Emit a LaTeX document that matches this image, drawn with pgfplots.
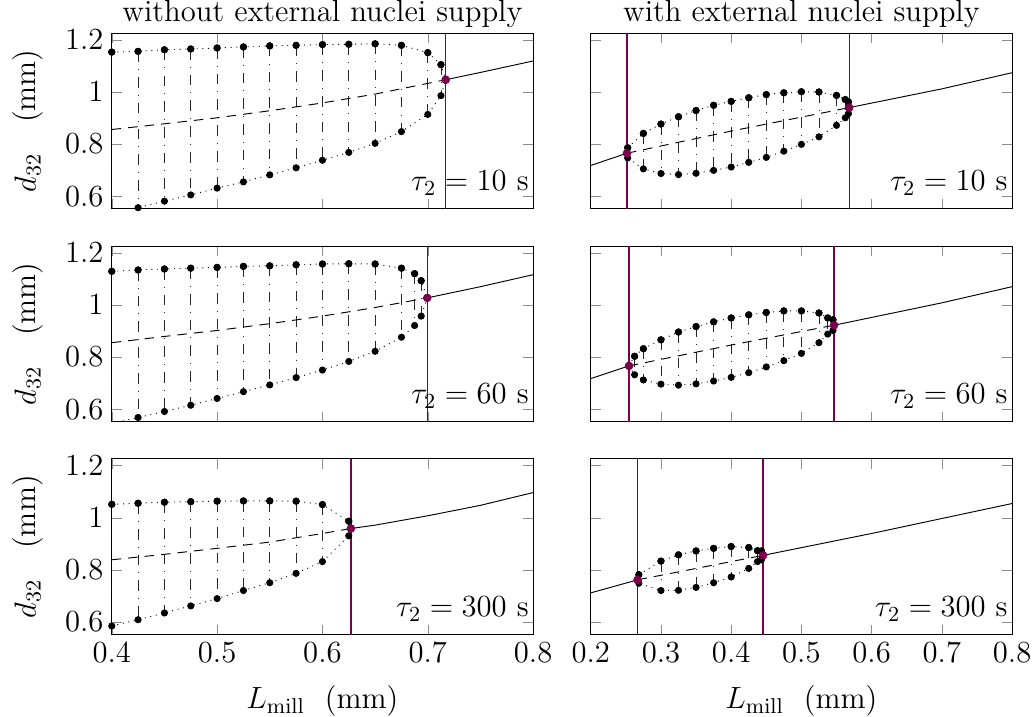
\RequirePackage{fix-cm}
\documentclass[border=0pt]{standalone}
\usepackage{pgfplots}
\pgfplotsset{compat=1.18}
\usepackage{pgfplotstable}
\usepgfplotslibrary{groupplots}
\definecolor{hopfc}{RGB}{125,0,75}

% panel 1: without supply, tau=10
\pgfplotstableread{
x up lo
0.4 1.153 0.535
0.425 1.156 0.556
0.45 1.162 0.581
0.475 1.165 0.605
0.5 1.169 0.631
0.525 1.173 0.655
0.55 1.177 0.682
0.575 1.179 0.709
0.6 1.182 0.738
0.625 1.183 0.768
0.65 1.185 0.803
0.675 1.179 0.848
0.7 1.151 0.914
0.7125 1.105 0.986
0.717 1.047 1.047
}\tA
\pgfplotstableread{
x up lo
0.4 1.129 0.545
0.425 1.134 0.568
0.45 1.138 0.591
0.475 1.141 0.615
0.5 1.144 0.641
0.525 1.148 0.667
0.55 1.150 0.693
0.575 1.154 0.721
0.6 1.157 0.750
0.625 1.158 0.783
0.65 1.157 0.822
0.675 1.141 0.876
0.6875 1.120 0.921
0.69375 1.093 0.957
0.6995 1.027 1.027
}\tB
\pgfplotstableread{
x up lo
0.4 1.052 0.585
0.425 1.056 0.609
0.45 1.060 0.635
0.475 1.062 0.662
0.5 1.064 0.690
0.525 1.065 0.721
0.55 1.065 0.751
0.575 1.064 0.787
0.6 1.051 0.832
0.625 0.987 0.931
0.627 0.959 0.959
}\tC
\pgfplotstableread{
x up lo
0.2516 0.765 0.765
0.2526 0.786 0.747
0.275 0.841 0.705
0.3 0.877 0.687
0.325 0.905 0.683
0.35 0.929 0.688
0.375 0.949 0.699
0.4 0.964 0.712
0.425 0.978 0.730
0.45 0.990 0.749
0.475 0.997 0.773
0.5 1.001 0.799
0.525 1.000 0.828
0.55 0.987 0.872
0.5625 0.971 0.901
0.567 0.962 0.917
0.568 0.940 0.940
}\tD
\pgfplotstableread{
x up lo
0.2545 0.766 0.766
0.2625 0.803 0.732
0.275 0.832 0.712
0.3 0.866 0.696
0.325 0.896 0.692
0.35 0.917 0.697
0.375 0.935 0.708
0.4 0.950 0.722
0.425 0.962 0.740
0.45 0.971 0.762
0.475 0.977 0.786
0.5 0.977 0.814
0.525 0.969 0.855
0.5375 0.950 0.888
0.545 0.943 0.902
0.5465 0.922 0.922
}\tE
\pgfplotstableread{
x up lo
0.2667 0.762 0.762
0.2685 0.782 0.749
0.3 0.834 0.721
0.325 0.858 0.722
0.35 0.873 0.733
0.375 0.883 0.751
0.4 0.890 0.773
0.425 0.886 0.806
0.4375 0.874 0.832
0.443 0.873 0.839
0.4455 0.856 0.856
}\tF

\pgfplotsset{
  vlines/.style={only marks, mark=none, mark size=1.3pt, black, forget plot,
    error bars/.cd, y dir=minus, y explicit, error mark=none,
    error bar style={black!85, line width=0.35pt, dash pattern=on 4.5pt off 3pt on 0.4pt off 3pt}},
  branch/.style={black, dotted, mark=none, forget plot},
  pts/.style={only marks, mark=*, mark size=1.3pt, black, forget plot},
  unst/.style={black, dash pattern=on 4pt off 3pt, mark=none, forget plot},
  stab/.style={black, solid, mark=none, forget plot},
  hln/.style={draw=hopfc, color=hopfc, line width=0.55pt, mark=none, forget plot},
  hopf/.style={only marks, mark=*, mark size=1.6pt, color=hopfc, fill=hopfc, forget plot},
  leftax/.style={xmin=0.4, xmax=0.8, xtick={0.4,0.5,0.6,0.7,0.8}},
  rightax/.style={xmin=0.2, xmax=0.8, xtick={0.2,0.3,0.4,0.5,0.6,0.7,0.8}},
}

\begin{document}
\begin{tikzpicture}[font=\fontsize{13}{15.6}\selectfont]
\begin{groupplot}[
  group style={group size=2 by 3, horizontal sep=24.4pt, vertical sep=15.8pt,
    xticklabels at=edge bottom, yticklabels at=edge left,
    xlabels at=edge bottom, ylabels at=edge left},
  scale only axis, width=178.5pt, height=74.4pt,
  ymin=0.552, ymax=1.226, ytick={0.6,0.8,1,1.2},
  major tick style={black!45},
  every axis title shift=0pt,
  title style={anchor=base, inner sep=0pt, yshift=5pt},
  xticklabel style={inner xsep=2pt},
  xlabel style={inner ysep=0pt, yshift=-6.3pt},
  ylabel style={inner sep=5.5pt},
  ylabel={$d_{32}$\quad(mm)},
  xlabel={$L_{\mathrm{mill}}$\ \ (mm)},
  clip=true,
]
% ---------- row 1 ----------
\nextgroupplot[leftax, title={without external nuclei supply}]
\addplot[vlines] table[x=x, y=up, y error expr=\thisrow{up}-\thisrow{lo}] {\tA};
\addplot[branch] table[x=x, y=up] {\tA};
\addplot[branch] table[x=x, y=lo] {\tA};
\addplot[unst] coordinates {(0.4,0.856)(0.45,0.878)(0.5,0.901)(0.55,0.928)(0.6,0.958)(0.65,0.992)(0.7,1.033)(0.717,1.047)};
\addplot[stab] coordinates {(0.717,1.047)(0.75,1.075)(0.8,1.119)};
\addplot[hln] coordinates {(0.717,0.552)(0.717,1.226)};
\addplot[pts] table[x=x, y=up] {\tA};
\addplot[pts] table[x=x, y=lo] {\tA};
\addplot[hopf] coordinates {(0.717,1.047)};
\node[anchor=base east, inner sep=0pt, xshift=-1.7pt, yshift=7.7pt] at (rel axis cs:1,0) {$\tau_2 = 10$ s};

\nextgroupplot[rightax, title={with external nuclei supply}]
\addplot[vlines] table[x=x, y=up, y error expr=\thisrow{up}-\thisrow{lo}] {\tD};
\addplot[branch] table[x=x, y=up] {\tD};
\addplot[branch] table[x=x, y=lo] {\tD};
\addplot[unst] coordinates {(0.2516,0.765)(0.4,0.850)(0.568,0.940)};
\addplot[stab] coordinates {(0.2,0.718)(0.2516,0.765)};
\addplot[stab] coordinates {(0.568,0.940)(0.7,1.012)(0.8,1.074)};
\addplot[hln] coordinates {(0.2516,0.552)(0.2516,1.226)};
\addplot[hln] coordinates {(0.568,0.552)(0.568,1.226)};
\addplot[pts] table[x=x, y=up] {\tD};
\addplot[pts] table[x=x, y=lo] {\tD};
\addplot[hopf] coordinates {(0.2516,0.765)(0.568,0.940)};
\node[anchor=base east, inner sep=0pt, xshift=-1.7pt, yshift=7.7pt] at (rel axis cs:1,0) {$\tau_2 = 10$ s};

% ---------- row 2 ----------
\nextgroupplot[leftax]
\addplot[vlines] table[x=x, y=up, y error expr=\thisrow{up}-\thisrow{lo}] {\tB};
\addplot[branch] table[x=x, y=up] {\tB};
\addplot[branch] table[x=x, y=lo] {\tB};
\addplot[unst] coordinates {(0.4,0.855)(0.45,0.879)(0.5,0.902)(0.55,0.928)(0.6,0.957)(0.65,0.990)(0.6995,1.027)};
\addplot[stab] coordinates {(0.6995,1.027)(0.75,1.070)(0.8,1.116)};
\addplot[hln] coordinates {(0.6995,0.552)(0.6995,1.226)};
\addplot[pts] table[x=x, y=up] {\tB};
\addplot[pts] table[x=x, y=lo] {\tB};
\addplot[hopf] coordinates {(0.6995,1.027)};
\node[anchor=base east, inner sep=0pt, xshift=-1.7pt, yshift=7.7pt] at (rel axis cs:1,0) {$\tau_2 = 60$ s};

\nextgroupplot[rightax]
\addplot[vlines] table[x=x, y=up, y error expr=\thisrow{up}-\thisrow{lo}] {\tE};
\addplot[branch] table[x=x, y=up] {\tE};
\addplot[branch] table[x=x, y=lo] {\tE};
\addplot[unst] coordinates {(0.2545,0.766)(0.4,0.846)(0.5465,0.922)};
\addplot[stab] coordinates {(0.2,0.717)(0.2545,0.766)};
\addplot[stab] coordinates {(0.5465,0.922)(0.7,1.008)(0.8,1.070)};
\addplot[hln] coordinates {(0.2545,0.552)(0.2545,1.226)};
\addplot[hln] coordinates {(0.5465,0.552)(0.5465,1.226)};
\addplot[pts] table[x=x, y=up] {\tE};
\addplot[pts] table[x=x, y=lo] {\tE};
\addplot[hopf] coordinates {(0.2545,0.766)(0.5465,0.922)};
\node[anchor=base east, inner sep=0pt, xshift=-1.7pt, yshift=7.7pt] at (rel axis cs:1,0) {$\tau_2 = 60$ s};

% ---------- row 3 ----------
\nextgroupplot[leftax]
\addplot[vlines] table[x=x, y=up, y error expr=\thisrow{up}-\thisrow{lo}] {\tC};
\addplot[branch] table[x=x, y=up] {\tC};
\addplot[branch] table[x=x, y=lo] {\tC};
\addplot[unst] coordinates {(0.4,0.839)(0.45,0.860)(0.5,0.883)(0.55,0.907)(0.6,0.940)(0.627,0.959)};
\addplot[stab] coordinates {(0.627,0.959)(0.65,0.972)(0.7,1.008)(0.75,1.048)(0.8,1.097)};
\addplot[hln] coordinates {(0.627,0.552)(0.627,1.226)};
\addplot[pts] table[x=x, y=up] {\tC};
\addplot[pts] table[x=x, y=lo] {\tC};
\addplot[hopf] coordinates {(0.627,0.959)};
\node[anchor=base east, inner sep=0pt, xshift=-1.7pt, yshift=7.7pt] at (rel axis cs:1,0) {$\tau_2 = 300$ s};

\nextgroupplot[rightax]
\addplot[vlines] table[x=x, y=up, y error expr=\thisrow{up}-\thisrow{lo}] {\tF};
\addplot[branch] table[x=x, y=up] {\tF};
\addplot[branch] table[x=x, y=lo] {\tF};
\addplot[unst] coordinates {(0.2667,0.762)(0.4455,0.856)};
\addplot[stab] coordinates {(0.2,0.712)(0.2667,0.762)};
\addplot[stab] coordinates {(0.4455,0.856)(0.6,0.940)(0.8,1.055)};
\addplot[hln] coordinates {(0.2667,0.552)(0.2667,1.226)};
\addplot[hln] coordinates {(0.4455,0.552)(0.4455,1.226)};
\addplot[pts] table[x=x, y=up] {\tF};
\addplot[pts] table[x=x, y=lo] {\tF};
\addplot[hopf] coordinates {(0.2667,0.762)(0.4455,0.856)};
\node[anchor=base east, inner sep=0pt, xshift=-1.7pt, yshift=7.7pt] at (rel axis cs:1,0) {$\tau_2 = 300$ s};
\end{groupplot}
\end{tikzpicture}
\end{document}
